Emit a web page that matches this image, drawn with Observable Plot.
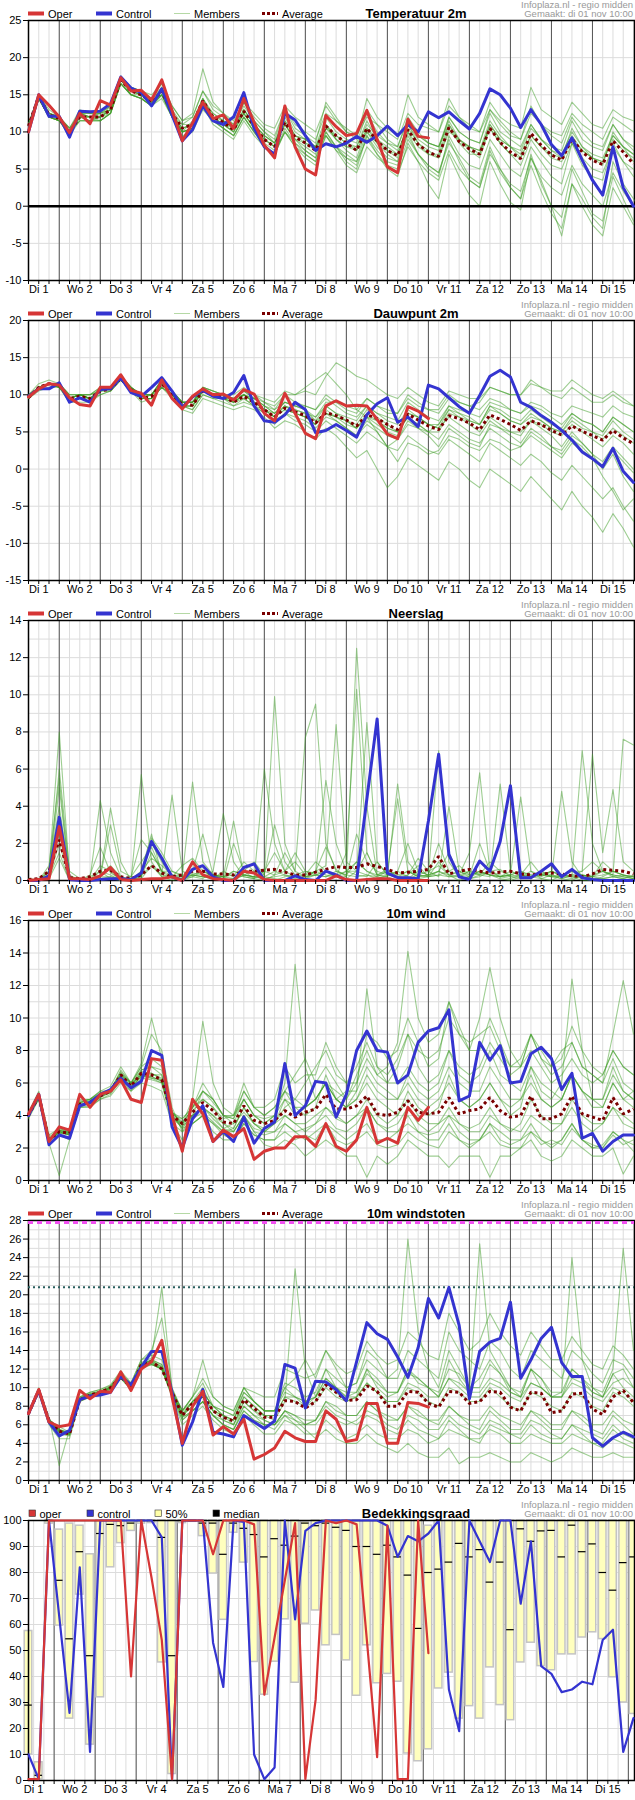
<!DOCTYPE html>
<html><head><meta charset="utf-8">
<script src="https://cdn.jsdelivr.net/npm/d3@7"></script>
<script src="https://cdn.jsdelivr.net/npm/@observablehq/plot@0.6"></script>
<style>
body{margin:0;background:#fff;}
#chart{width:635px;}
#chart svg{display:block;}
</style></head><body><div id="chart"></div>
<script>
// ---------- labels ----------
const dayLabels = ["Di 1","Wo 2","Do 3","Vr 4","Za 5","Zo 6","Ma 7","Di 8","Wo 9","Do 10","Vr 11","Za 12","Zo 13","Ma 14","Di 15"];
const infoLine1 = "Infoplaza.nl - regio midden";
const infoLine2 = "Gemaakt: di 01 nov 10:00";
const lineLegend = ["Oper","Control","Members","Average"];
const cloudLegend = ["oper","control","50%","median"];

// ---------- Temperatuur 2m ----------
const tempOper = [10,15,13.6,12, 9.9,12.5,11.1,14.2, 13.6,17.3,15.5,15.6, 14.3,17,12.9,8.8, 11.2,14,11.8,12.3, 10.5,14.5,11.3,8.2, 6.5,13.5,8,5, 4.2,12.2,10.7,9.5, 9.8,12.9,9,5.3, 4.5,11.7,9.4,9.2];
const tempControl = [10,15,12.1,12.1, 9.3,12.8,12.7,12.8, 13.8,17.4,15.9,15.3, 13.5,15.8,12.3,8.8, 10.3,13.5,11.5,11, 12,15.3,10.5,8, 7,12.5,11.6,9.5, 7.5,8.4,8,8.5, 9.4,8.6,9.5,10.8, 9.5,11,10,12.7, 11.9,12.7,11.5,10.4, 12.5,15.8,15,13.2, 10.6,13,11,8.3, 6.8,9.2,6.2,3.5, 1.5,8,2.5,0];
const tempAvg = [10.8,14.8,12.3,11.8, 10,12,12,12, 13,17,15.5,15, 14,15.5,12.5,10.5, 11,14.2,12,11.3, 10.3,12.8,10.8,9, 8,11.3,9.3,8.5, 7.5,10.8,9.5,8.5, 7.5,10.5,8.8,7.5, 6.8,10.3,8.3,7.3, 6.7,10.6,8.7,7.7, 7,10.5,8.6,7.3, 6.4,9.8,8.2,6.9, 6.2,9.1,7.3,6.2, 5.6,8.8,7.3,5.7];
const tempMembers = [
[11,15,13,12, 10.5,13,12.5,12.5, 13,17.5,16,15.5, 14.5,16,13,11, 12,15.5,13,12, 11,14,12,10.5, 9.5,13,11,10, 9,12.5,11.5,10.5, 9.5,12,11,10, 9,12.5,11,10.5, 10,13.5,12,11, 10,13,11.5,10, 9,12.5,11,10, 9.5,12.5,11,10, 9,12,11,10],
[11,14.5,12,11.5, 9.5,12,11.5,11.5, 12.5,16.5,15,14.5, 13.5,15,12,10, 10.5,13.5,11.5,10.5, 9.5,12,10,8, 7,10,8,7, 6,9.5,8,7, 6,9,7,5.5, 4.5,8,6,4.5, 3.5,7.5,5,3.5, 2.5,7,5,3, 2,6.5,4,2.5, 1.5,5.5,3,1.5, 0,4.5,2,0],
[10.5,15,12.5,12, 10,12.5,12,12, 13,17,15.5,15, 14,15.5,12.5,10, 11.5,14.5,12,11.5, 10.5,13,11,9.5, 8.5,12,9.5,8.5, 7.5,11,9.5,8.5, 8,11.5,9,7.5, 7,11,8.5,7, 6.5,10.5,8.5,8, 7.5,11.5,9.5,8, 7.5,11,9,7.5, 7,10,8,7, 6.5,9.5,8,7],
[10,14.5,12,11.5, 10,11.5,11.5,12, 13.5,17.5,15.5,15, 14,15,12,10.5, 11,14,12.5,11.5, 10.5,14,11.5,10, 9,13,10.5,9.5, 8.5,14,12,10, 9,14.5,12,10.5, 9.5,15,12,11, 10,14.5,12,10.5, 10,14,12,11, 10.5,16,13,12, 11,14,12.5,11, 10.5,13,12,11.5],
[11,15,12,11.5, 10,12,12,11.5, 12.5,17,15.5,15, 14,16,12.5,10, 10.5,14,11.5,10.5, 9.5,12,10,8, 7,10.5,8.5,7, 6,10,8,6, 5,9.5,7,5, 4,8.5,6,3, 1,7,4,1.5, 0,6,3,0.5, -0.5,6.5,3.5,0, -1.5,5,2,-1, -2,4,1,-2],
[10.5,14.5,12,12, 10,12.5,12.5,12, 13,17,15,15, 14,15,12.5,11, 11,14.5,12,11, 10,12.5,10.5,9, 8,11.5,9.5,9, 8,11,9,8, 7.5,10.5,9,8, 7,10,8,7, 7,11,9,8, 7.5,10.5,8.5,7, 6.5,9.5,8,7, 6.5,9.5,7.5,6.5, 6,9,7.5,6.5],
[11,15,12.5,12, 10,12,12,12.5, 13.5,17.5,16,15.5, 14.5,16.5,13.5,11.5, 12.5,18.5,14,12.5, 11,13.5,11.5,10, 8.5,11,9,8.5, 8,12,10,9, 8.5,12.5,10,8.5, 7.5,10.5,8.5,7.5, 6.5,10,9,8, 7,11,9,8, 7,10.5,9,8, 7.5,11.5,9,8, 7.5,11,9,7.5],
[10.5,14.5,12,11.5, 9.5,11.5,11.5,11.5, 12.5,16.5,15,14.5, 13.5,14.5,12,10, 10.5,13.5,11.5,10.5, 9.5,12,10,8.5, 7.5,10,8.5,7.5, 6.5,10,8,6.5, 5.5,9.5,7.5,6, 5.5,10,7,5.5, 4.5,9,6,3.5, 2.5,7.5,4.5,2.5, 1,5.5,2,-1, -3,3,0,-2.5, -4,2.5,0,-2.5],
[10,14.5,12.5,12, 10.5,12.5,12,12, 12.5,16.5,15,14.5, 13.5,15,12,9.5, 10,13,11.5,11, 10.5,12.5,10.5,9, 8,11,9,7.5, 6.5,10.5,9.5,8.5, 7.5,10,8.5,7.5, 6.5,11.5,9.5,8.5, 8,12,10,9, 8.5,12.5,10,9, 8,11,9,7.5, 6.5,10.5,8,6.5, 5.5,10,8,6],
[11,15,12,11.5, 10,12,11.5,12, 13,17,15.5,15, 14.5,15.5,12.5,10.5, 11,14,12,11, 10,13,11,9.5, 8.5,12.5,10,9, 8,9.5,7.5,5.5, 4.5,8,6.5,5.5, 5,9,7,5, 4,9.5,7,5.5, 5,9,7,5, 4,8,6,4, 3,8.5,5.5,4, 3.5,8.5,6,4],
[10.5,14.5,12,11.5, 10,11.5,11.5,11.5, 12.5,16.5,15,14.5, 13.5,15.5,12.5,10, 10.5,13.5,11,10, 9,11.5,9.5,8, 7,10,8,6.5, 5.5,9.5,7.5,6.5, 6,10,8,6.5, 6,11,9,8, 7.5,12,10,9, 8.5,13,11,9.5, 9,13.5,11,9.5, 8.5,12,10,8.5, 8,11,9,8],
[11,15,12.5,12, 10.5,12.5,12.5,12.5, 13.5,17.5,16,15.5, 15,16.5,13.5,11.5, 12,15.5,13.5,12.5, 11.5,14,12.5,11, 10.5,13.5,12,11, 10,13.5,11.5,10, 9.5,13,11,9, 8,11.5,9.5,8.5, 8,11.5,9,7.5, 6.5,10.5,8.5,7, 5.5,9,7,5.5, 5,8.5,6.5,5, 4.5,8,6,5],
[10.5,14.5,12,12, 10,12,12,12, 13,16.5,15,14.5, 13.5,15,12,10, 10.5,14,12,11, 10,12.5,10.5,9, 8,11,9,8, 7,11,9,7.5, 6.5,10.5,8.5,7, 6,9.5,7,5.5, 4.5,8.5,6.5,4, 3,8,5,2.5, 1,7,3,0, -4,3,1,-1.5, -3,6,3,1, -1,5.5,3,-3],
[10.5,15,12.5,12, 10,12.5,12,12.5, 13,17,15.5,15, 14,15.5,12.5,10.5, 11,14.5,12.5,11.5, 10.5,13,11,9.5, 8.5,11.5,9.5,9, 8,10.5,9,8, 8,11,9.5,8.5, 8,12,10,8.5, 8,11,8.5,7, 7,11,9,8, 6.5,9.5,8,6.5, 6,9,7.5,6.5, 6,9.5,8,7]
];

// ---------- Dauwpunt 2m ----------
const dewOper = [9.7,10.8,11.5,11.3, 9.6,8.7,8.5,11, 11,12.7,10.6,10.2, 8.6,12,9.5,8.1, 9.8,10.8,10,10.1, 9.3,10.7,10.1,7.5, 6.5,10.2,7.5,4.8, 4.1,8.5,9.2,8.5, 8.6,8.5,6.7,4.7, 4.1,8.4,7.8,6.8];
const dewControl = [9.8,10.8,10.8,11.6, 9,9.6,9,10.7, 10.8,12.3,10.3,9.8, 11,12.3,10.5,8.3, 9.7,10.6,9.8,9.5, 10.3,12.6,8.5,6.5, 6.3,7.3,9,8, 4.9,5.2,6,5.2, 4.3,7.3,8.8,9.6, 6.3,7,5.7,11.3, 10.8,9.6,8.4,7.5, 9.9,12.5,13.3,12.4, 9,8.3,7.2,6.3, 5.2,3.9,2.3,1.4, 0.3,2.8,-0.3,-1.8];
const dewAvg = [9.6,11,11.5,11.3, 9.5,9.8,9.5,10.5, 10.8,12.2,10.7,9.5, 9.8,11.5,10,8.7, 8.6,10.5,10,9.8, 9,9.8,9,8, 7,8.2,7.7,7.2, 6.2,7.6,7.2,6.6, 5.8,7.3,6.8,6, 5.3,7.4,6.6,5.8, 5.3,7.2,6.8,6.2, 5.3,7.3,6.7,6, 5.2,6.5,6,5.2, 4.6,5.8,5.1,4.5, 3.9,5.2,4.2,3.4];
const dewMembers = [
[9.5,11,11.5,11, 9,9.5,9.5,10.5, 11,12.5,11,10, 10,12,10.5,9, 9,11,10.5,10, 9.5,10.5,9.5,8.5, 7.5,9,8.5,8, 7,9,9,8.5, 8,9.5,8.5,8, 7.5,9.5,8.5,8, 7.5,9.5,9,8.5, 8,9.5,9,8, 7.5,9,8.5,7.5, 7,8.5,8,7.5, 7,8.5,7.5,7],
[10,11,11.5,11.5, 10,10,9.5,10.5, 11,12,10.5,9.5, 9.5,11.5,10,8.5, 8,10,9.5,9.5, 8.5,9,8.5,7.5, 6,7.5,6.5,6, 5,6.5,5.5,4.5, 3.5,5,4,3, 2.5,4.5,3.5,2.5, 2,4,3,2, 1,3.5,2.5,1.5, 0.5,2,1,-0.5, -1.5,0.5,-1,-2.5, -4,-2.5,-5,-7],
[9.5,11,11.5,11, 9.5,10,9.5,10.5, 10.5,12.5,11,9.5, 10,11.5,10,9, 9,10.5,10,10, 9,10,9.5,8.5, 8,9,8.5,8, 6.5,8.5,7.5,7, 6.5,8.5,7.5,6.5, 6,8,7,6, 6,8,7,6.5, 6,8.5,8,7, 6.5,8,7,6, 5.5,7.5,6.5,6, 5,7,6,5],
[9.5,11,11.5,11.5, 9.5,10,9.5,11, 11,12.5,11,10, 10,12,10.5,9, 9,11,10.5,10, 10,11,10,9, 8,10,10,10.5, 10,12.5,14.3,13.5, 12.5,12,11,10, 9.5,11,10,9, 8.5,10.5,10,9.5, 9.5,11,10.5,10, 10,11.5,11,10, 9.5,11,10,9, 9,10,9,8.5],
[9.5,10.5,11,11, 9,9,9,10, 10.5,12,10.5,9, 9.5,11,9.5,8, 7.5,9.5,9,8.5, 8,8.5,8,7, 5.5,6.5,6,5, 4,5.5,4.5,3, 1.5,2.5,0,-2.5, -1,1.5,0.5,-0.5, -1.5,1,0,-1.5, -2.5,0,-1,-2, -3,-1,-2.5,-4, -5.5,-3,-5,-6.5, -8.5,-6,-8,-10.5],
[10,11.5,12,11.5, 10,10,10,11, 11,12.5,11,10, 10,12,10.5,9, 9,11,10.5,10, 9.5,10,9,8, 7,8,7.5,7, 6,8,7,6, 5.5,7.5,6.5,5.5, 5,7,6,5, 5,7.5,7,6, 5,7,6,5, 4.5,6.5,6,5, 4.5,6,5,4, 3,4.5,3.5,2],
[9.5,11,11.5,11, 9.5,10,9.5,10, 10.5,12,10.5,9.5, 9.5,11,10,8.5, 8.5,10.5,10,9.5, 9,10,9,8, 7,8.5,8,7.5, 7,8.5,7.5,6.5, 5.5,7,6,5, 4.5,7.5,7,6, 5.5,7,6,5, 4.5,6.5,5.5,4.5, 3.5,5.5,4.5,3, 2.5,4.5,3.5,2, 1,3,1.5,0],
[9.5,11,11.5,11.5, 9.5,10,10,10.5, 11,12,11,10, 10,11.5,10,8.5, 8.5,10.5,10,10, 9,10,9.5,9, 8.5,10,9,8.5, 8,9.5,8.5,7.5, 7,8.5,7.5,7, 6.5,9,8,7, 6.5,8.5,7.5,6.5, 6,8.5,7.5,6.5, 6,7.5,6.5,5.5, 5,7,6,5, 4.5,6.5,5,4],
[9.5,11,11.5,11, 9.5,10,9.5,10.5, 11,12,10.5,9.5, 9.5,11,10,9, 9,10.5,10,10, 9.5,10,9,8, 7.5,8.5,7.5,7, 6,7.5,6.5,5.5, 4.5,6.5,5.5,4.5, 4,6.5,5.5,4.5, 3,5.5,4.5,3.5, 3,6,5.5,5, 5,6.5,5.5,4.5, 3,5,3.5,2, 0,2,-1,-3],
[9.5,11,11.5,11.5, 10,10,10,11, 11,12.5,11,10, 10,12,10.5,9, 9,11,10,9.5, 9.5,10.5,9.5,8.5, 7.5,9,8.5,8.5, 8,10,9,8, 7.5,9.5,8.5,7.5, 7.5,10,9,8, 8,10,9,8.5, 9,11,10.5,10, 10,12,11,10.5, 10.5,12,11,10, 9.5,10.5,9.5,8.5],
[9.5,11,11.5,11, 9.5,10,9.5,10.5, 10.5,12,10.5,9.5, 9.5,11.5,10,8.5, 8,10,9.5,9, 8.5,9.5,8.5,8, 7,8,7.5,7, 6,7.5,7,6.5, 6,8,7,6, 5,7.5,7,6, 5.5,8,7.5,7, 6,8,7.5,6.5, 6,7,6.5,5.5, 5,6.5,5.5,5, 4,5.5,4.5,3.5],
[10,11,11.5,11.5, 9.5,10,9.5,10.5, 11,12.5,11,10, 10,11.5,10,8.5, 8.5,10.5,10,9.5, 9,10,9,8, 7,8.5,8,7.5, 6.5,7.5,7,6.5, 5.5,7,6.5,5.5, 5,7,6,5, 4,6,5,4, 3.5,5.5,4.5,3.5, 3,5,4,3, 2,4,3,1.5, -1,-3,-5.5,-4],
[9.5,11,11.5,11, 9.5,10,9.5,10.5, 11,12,10.5,9.5, 10,11.5,10,9, 9,10.5,10,10, 9.5,10.5,10,9.5, 9,10.5,10,11, 12,13,11.5,10, 8,7,5,3, 4,6,5.5,5, 6,8.5,8,7.5, 7,9,8.5,8, 7.5,8.5,8,7, 6,7.5,6.5,6, 5,7,6,5],
[9.5,11,11.5,11.5, 9.5,10,10,10.5, 11,12,10.5,9.5, 9.5,11,10,8.5, 8.5,10.5,10,9.5, 9,9.5,8.5,7.5, 6.5,7.5,7,6.5, 5.5,7,6.5,5.5, 4.5,6,5,3, 1,3.5,3,2, 2.5,4.5,4,3, 2.5,4,3.5,2.5, 3,4.5,3.5,2.5, 1.5,3.5,2.5,1.5, 0.5,2.5,1,-0.5]
];

// ---------- Neerslag ----------
const precipOper = [0,0.05,0.1,2.9, 0.1,0.1,0.05,0.25, 0.7,0.05,0,0.05, 0.1,0.1,0.2,0, 1,0.3,0.1,0.05, 0,0.5,0.4,0.05, 0,0,0,0, 0,0,0.25,0.05, 0,0.05,0.1,0.1, 0,0,0,0];
const precipControl = [0,0,0.25,3.4, 0.05,0,0,0.05, 0.1,0.1,0.05,0.4, 2.1,1.2,0.2,0, 0.6,0.8,0.2,0, 0,0.7,0.9,0, 0,0,0.25,0.05, 0,0.5,0.3,0, 0,4.4,8.7,0.4, 0.15,0.15,0.1,3.2, 6.8,1.4,0.2,0.05, 1.05,0.5,2.1,5.1, 0.15,0.15,0.5,0.9, 0.2,0.6,0.15,0.05, 0,0,0,0];
const precipAvg = [0.05,0.1,0.5,2.2, 0.15,0.1,0.2,0.5, 0.55,0.2,0.1,0.3, 0.8,0.4,0.2,0.3, 0.5,0.5,0.35,0.35, 0.3,0.5,0.5,0.55, 0.6,0.45,0.3,0.3, 0.45,0.6,0.75,0.7, 0.7,0.9,0.75,0.6, 0.4,0.45,0.5,0.6, 1.3,0.35,0.5,0.6, 0.5,0.4,0.45,0.5, 0.35,0.3,0.35,0.4, 0.35,0.25,0.2,0.35, 0.6,0.55,0.5,0.35];
const precipMembers = [
[0,0.1,0.5,8, 0.3,0,0,0.5, 0.3,0,0,0.2, 1.5,0.5,0.1,0, 0.2,0.5,0.3,0.1, 0,0.3,0.5,0.2, 0.1,0,0,0.1, 0.5,1.8,0.6,0.2, 12.5,4,0.3,0.2, 0,0.1,0.3,0.5, 0.8,0.3,0,0.2, 0.4,0.3,0.1,0, 0.2,0.5,0.1,0, 0.3,0.2,0,0, 0.2,0.5,0.3,0.1],
[0,0.1,0.3,5, 0.2,0,0.1,4.3, 1.5,0.2,0,0.5, 2.5,0.3,0.2,0.8, 1.2,0.5,0.2,0, 0.1,0.5,1,0.3, 9.9,2,0.5,0.2, 0.3,0.5,0.2,0.1, 0.5,1.5,0.3,0.6, 0.2,0.1,0.5,0.3, 7,1,0.2,0.1, 0.3,0.5,0.6,0.2, 0.1,0.2,0.5,0.3, 0.1,0.3,0.1,0.2, 0.5,0.2,0.1,0],
[0,0,0.2,2, 0.1,0.1,0,0.2, 3.9,1,0,0.1, 0.8,0.3,4.6,0.5, 0.3,0.2,0.1,0, 2,0.5,0.1,0, 0.3,1.5,0.5,7.7, 9.5,2,0.5,0.3, 1,0.5,0.2,0.1, 0,0.3,1.2,0.5, 0.2,4,0.5,0.2, 0.5,0.3,0.2,0.1, 0.3,0.1,0.5,0.2, 0.1,0,0.3,0.1, 0.1,0.2,0.1,0.3],
[0.1,0,0.1,1.2, 0,0,0,0.8, 0.5,0,0,5.7, 1,0.2,0.3,0.2, 5.3,1,0.3,0.1, 0.5,0.3,0.2,0.1, 0,0.2,0.3,0.5, 0.4,5.4,2,0.5, 0.3,0.2,1,0.3, 0.2,0.3,0.8,0.2, 0.5,0.2,0.3,1.5, 5.8,0.5,0.2,0.3, 0.2,0.3,0.4,0.2, 4.8,1,0.2,0.3, 0.5,0.3,0.2,0.1],
[0,0,0.5,4, 0.2,0,0.3,1.8, 0.4,0.1,0.2,2.2, 1.5,0.5,0.3,0.1, 0.2,0.1,0.5,3.6, 1,0.2,0.1,6, 2,0.5,1,0.3, 0.5,0.8,8.4,1, 0.5,8.5,1,0.3, 0.2,0.5,0.3,0.2, 0.3,0.2,0.2,0.5, 0.3,0.2,5.2,0.5, 0.3,0.2,0.1,0.3, 0.2,0.3,0.5,1, 0.5,0.3,0.2,0.1],
[0,0.1,0.2,3, 0.1,0.1,0.1,0.3, 0.8,0.2,0,0.5, 1.2,0.8,0.3,0.2, 0.5,2.5,0.3,0.2, 3.2,0.3,0.2,0.1, 0.2,0.3,0.2,0.1, 0.3,0.5,0.2,1.5, 10.3,1.5,0.3,0.2, 5.2,1,0.3,0.2, 0.3,0.5,0.8,0.3, 0.5,0.3,0.2,0.3, 0.5,0.3,0.2,0.5, 0.3,0.5,0.5,6.8, 1.5,4.9,1,0.5],
[0,0,0.3,6, 0.5,0.1,0,0.1, 0.2,0,0,0.3, 2,1,0.2,0.1, 0.3,0.2,0.1,0.5, 0.2,1,0.5,0.3, 3,1,0.3,0.2, 0.5,0.3,0.2,0.5, 1,0.5,0.3,0.5, 4.4,0.5,0.2,0.3, 2,0.5,0.3,0.5, 0.3,1,0.5,0.3, 4.5,0.5,0.3,0.5, 0.3,0.2,7,2, 0.5,0.3,7.6,7.3],
[0.1,0,0.2,1.5, 0,0,0.2,0.5, 0.1,0,0.1,0.3, 0.8,0.2,0,0.1, 0.3,0.2,0.3,0.2, 0.1,0.3,0.2,0.2, 0.5,0.3,0.1,0.2, 0.3,0.2,0.5,0.3, 0.2,0.3,0.1,0.3, 0.5,0.2,0.1,0.2, 1,0.3,0.2,0.1, 0.2,0.5,0.3,0.2, 0.3,0.2,0.3,0.2, 0.2,0.1,0.3,0.2, 0.1,0.2,0.3,0.2],
[0,0,0.8,5.5, 0.1,0,0,0.2, 3,0.5,0.2,1, 1.8,0.5,0.5,0.3, 0.4,0.3,0.3,0.2, 0.3,0.2,0.1,0.5, 1.5,0.5,0.2,0.3, 1,0.5,0.3,0.2, 2.5,1,0.5,0.3, 0.5,2,0.5,0.3, 0.5,1.5,0.3,0.2, 2,0.5,0.2,0.5, 0.3,1,0.3,0.5, 0.2,0.5,0.3,0.2, 1,0.5,0.3,0.2],
[0,0.1,0.4,2.5, 0.2,0.1,0.1,0.2, 0.2,0.1,0,0.2, 2.3,1.5,0.5,0.2, 0.3,0.5,0.3,0.2, 0.5,0.3,0.2,0.5, 0.3,0.5,1.5,0.5, 0.3,0.2,0.3,0.5, 0.5,0.3,0.2,0.5, 0.3,0.5,0.2,0.3, 0.5,0.3,0.5,0.3, 0.5,0.3,0.2,0.3, 0.5,0.2,0.3,0.2, 0.3,0.2,0.3,0.2, 0.3,0.5,0.3,0.2]
];

// ---------- 10m wind ----------
const windOper = [4.1,5.3,2.4,3.3, 3.1,5.3,4.5,5.3, 5.5,6.2,5,4.8, 7.5,7.4,4,1.8, 5,4.1,2.4,3.1, 2.7,3.2,1.3,1.8, 2,2,2.7,2.7, 2.1,3.5,2.1,1.8, 2.5,4.5,2.3,2.6, 2.3,4.5,3.7,4.5];
const windControl = [4,5.3,2.2,2.8, 2.6,4.6,4.8,5.3, 5.6,6.3,5.7,6.1, 8,7.7,3.3,2, 3.8,4.6,2.4,3, 2.4,3.9,2.3,3.2, 3.6,7.2,4,4.6, 6.1,6,3.9,5.3, 8,9.2,8,7.9, 6,6.5,8.5,9.2, 9.4,10.5,4.9,5.2, 8.5,7.4,8.3,6, 6.1,7.8,8.2,7.5, 5.6,6.6,2.6,2.9, 1.8,2.4,2.8,2.8];
const windAvg = [4,5.2,2.5,3, 2.9,4.7,4.8,5.2, 5.5,6.5,5.8,6.6, 6.5,6.2,4,3.5, 4.2,4.8,4.3,3.6, 3.5,4.6,3.7,3.5, 3.7,4.3,3.9,4.2, 4.4,5.3,4.4,4.4, 4.6,5.2,4.1,4, 4.2,4.9,4.2,4.1, 4.2,5.1,4.1,4.3, 4.4,5.1,4.3,3.9, 4,5.2,3.8,3.8, 4.1,5.2,4.1,3.9, 3.7,5.1,4.1,4.4];
const windMembers = [
[4,5.2,2.5,3, 2.8,4.5,4.8,5.2, 5.5,6.5,5.8,6.8, 7,6.5,4.2,3.5, 4.5,5,4.5,3.5, 3.2,4.5,3.5,3, 3.5,4.5,5,6, 7,8,6.5,6, 7,8.5,7,6.5, 7.5,9,8,7.5, 8,10,9,8.5, 9,9.5,8,7, 7.5,9,7.5,7, 8,8.5,7,6.5, 6,7.5,6,5.5],
[4,5,2.2,2.8, 2.5,4.5,4.5,5, 5.3,6.2,5.5,6.3, 6.2,6,3.5,2.5, 3.5,4,3,2.5, 2.5,3.5,2.8,2.5, 2.5,3,2.5,2.8, 2.5,3.5,2.5,2.2, 2.5,3,2.2,2, 2.2,3,2.5,2.2, 2,3,2.5,2.2, 2.5,3,2.2,2, 2,3,2.2,2.5, 2.2,3.2,2.5,2.2, 2,2.8,2.2,2.5],
[4.2,5.5,2.8,3.2, 3,5,5,5.5, 5.8,7,6,7, 9,8,4.5,3, 4,5.5,5,4, 3.5,5,4,3.5, 4,5.5,4.5,4, 4.5,6.5,5,4.5, 5,6,5,4.5, 4,5.5,4.5,4, 4.5,6.5,5,4.5, 5,6,5,4, 4.5,7,5.5,5, 6,12.4,8,5, 4.5,6,5,5.5],
[3.8,5,2.3,0.3, 2.5,4.8,5,5.3, 5.5,6.8,6,7, 7.5,7,4,3.2, 4,4.5,4,3.5, 3,4,3.2,3, 3.5,5,4.5,4.5, 5,6,5.5,5, 6,7.5,6.5,6, 7,9,7,6, 6.5,8,7,6.5, 7,8.5,7.5,6.5, 7,8,7,6, 6.5,7.5,6.5,6, 6.5,8,7,6.5],
[4,5.3,2.5,3.2, 3,4.8,5,5.5, 5.5,6.5,6,6.5, 6.5,6.5,4,3.5, 5,9.8,6,4.5, 4,5,4,3.5, 4,6,13.3,7, 5,6,5,4.5, 5.5,11.8,7,6, 6,7,6,5.5, 6,8,6.5,6, 6.5,8,6.5,6, 5.5,7,6,5.5, 5,6.5,5.5,5, 5,6.5,5.5,5],
[4,5.2,2.6,3, 2.8,4.5,4.6,5, 5.2,6,5.5,6, 5.8,5.5,3.5,3, 3.5,4,3.5,2.8, 2.5,3.5,2.8,2.5, 2.5,3.5,3,2.5, 3,3.5,3,2.5, 3,3.5,2.5,2.5, 3,3.5,3,2.8, 3,4,3,2.5, 2.5,3.5,3,2.5, 2.5,3,2.5,2, 2.5,3.5,2.5,2, 2,3,2.5,1.8],
[4.1,5.4,2.4,2.9, 2.8,4.8,4.9,5.3, 5.6,6.6,6,7.2, 10,7.5,4.2,3.8, 4.5,5.5,5,4, 4,6,4.5,4, 4.5,5.5,6.5,7.5, 6,7,6,5, 6.5,8,6.5,7, 8.5,14.1,10,8.5, 9,11,9,8, 10,13.1,10,8, 7,9,7.5,6.5, 7,8.5,7,6.5, 6,9,12.3,9],
[3.9,5.1,2.5,3, 2.9,4.6,4.8,5.1, 5.4,6.3,5.7,6.4, 6.3,6,3.8,3.5, 4,4.5,3.8,3.2, 3.5,4.2,3.5,3.2, 3.5,4,3.5,3.5, 4,4.5,3.8,3.5, 4,4.5,3.5,3.2, 3.5,4.5,3.5,3, 3.5,4,3.5,3.2, 3.5,4.5,3.5,3.2, 3,4,3.5,3, 3.5,4.5,3.5,3, 3.5,4.5,3.5,3.2],
[4,5,2.4,3, 3,4.7,4.7,5.2, 5.5,6.5,5.8,6.6, 6.6,6.2,4,3.2, 3.5,4,3.5,3, 3,4,3,2.2, 2,2.5,2.2,1.5, 2,2.5,2,1.5, 1.5,0.2,1.5,1, 1.5,2.5,2,1.5, 1.5,0.8,1.5,1.5, 1.5,0.2,1.5,1.5, 2,2.5,1.5,1.2, 1.5,2.5,2,1.5, 1.5,2,0.4,1.5],
[4,5.2,2.7,3.1, 3,4.9,5,5.4, 5.6,6.7,6,6.8, 7,6.8,4.2,3.6, 4.3,5,4.5,3.8, 4,5.5,4.5,4, 4.5,5.5,5,4.5, 5,6,5,4.5, 5,6.5,5.5,5, 5,6,5,4.5, 5,6,5,4.5, 5,6,5,4.5, 5,6,5,4.5, 5,6.5,5.5,4.5, 4.5,6,5,4.5],
[4,5.1,2.6,3.1, 2.9,4.6,4.8,5.2, 5.4,6.6,5.9,6.5, 6.4,6.1,4,3.8, 4.5,5.5,4.8,4, 3.8,5,4,3.8, 4,5,4,4.5, 5,6,5,5.5, 5.5,7,6,5.5, 5,6.5,5.5,5, 5.5,7,6,5.5, 5.5,7,6,5, 5,6.5,5,4.5, 5,6.5,5.5,5, 5,7,5.5,5],
[4,5.3,2.4,3, 2.8,4.8,4.9,5.3, 5.5,6.4,5.7,6.7, 6.6,6.3,3.8,3.3, 4,4.5,4,3.2, 3,4,3,2.8, 3,3.5,3,3.2, 3.5,4,3.2,3, 3.5,4.5,3.5,3, 3,4,3,2.5, 2.5,3.5,2.5,2, 2.5,3.5,2.5,2.2, 2.5,3.5,2.5,2.2, 2.5,3.5,2.5,2, 2.2,3,2.5,2.2],
[4.1,5.2,2.5,3.1, 2.9,4.7,4.7,5.1, 5.5,6.4,5.6,6.5, 6.3,6.2,4.2,3.4, 4.5,6,5,4, 3.8,5.5,4.5,4.5, 5,7,6,6.5, 6.5,8.5,7,6, 6,9,8.5,7.5, 8,10,8.5,7, 7.5,11,9.5,8, 8,10,8.5,7, 7,9,8,7, 7.5,9.5,8,7, 6.5,8,7,6.5],
[3.9,5.2,2.6,2.9, 2.9,4.6,4.8,5.2, 5.4,6.4,5.7,6.4, 6.4,6.1,3.9,3.4, 3.8,4.2,3.6,3, 3.2,4.5,3.5,3, 3,4,3.5,3, 3.5,4.5,4,3.5, 4,5,4,3.5, 4,5,4,3.5, 3.5,4.5,3.5,3, 3,4,3.5,3, 3.5,5,4,3.5, 3.5,5,4,3.5, 3.5,4.5,4,3.5]
];

// ---------- 10m windstoten ----------
const gustOper = [7.2,9.8,6.3,5.8, 6,9.7,8.8,9.6, 9.5,11.7,9.7,12, 12.8,15.1,9,4, 8,9.6,4.9,5.8, 5,6.6,2.3,2.8, 3.5,5.3,4.6,4.2, 4.2,7.5,6.6,4.2, 4.4,8.3,8.3,4, 4,8.4,8.3,7.9];
const gustControl = [7.2,9.7,6.3,4.8, 5.4,8.7,9.1,9.2, 9.5,11.2,10.3,12.2, 13.9,13.9,9.5,3.8, 6.3,9.8,5.2,5, 4.7,7,6.3,5.6, 6.4,12.5,12.1,7.8, 10.7,10.6,9.8,8.6, 12.8,17,15.8,15.2, 13.3,11.1,14.3,19.6, 17.5,20.8,16.7,8.8, 13.9,14.9,15.3,19.2, 11,13,15.3,16.5, 12.7,11.2,11.2,4.6, 3.7,4.6,5.2,4.7];
const gustAvg = [7.2,9.7,6.5,5.3, 5,8.7,9.2,9.5, 10,11.2,10,12.5, 12.8,12,9.5,7, 8.3,9.2,7.5,6.8, 6.4,8.7,7.8,6.8, 6.8,8.6,8.5,7.8, 8.5,10.3,9.5,8.6, 8.7,10.2,9.6,8, 8,9.6,9.5,8.3, 7.9,9.6,9.5,8.3, 8.5,9.6,9.5,7.9, 7.5,9.5,9.4,7.3, 7.5,9.3,9.4,7.7, 7.1,9,9.7,8.4];
const gustRefLines = [28, 20.8];
const gustMembers = [
[7.2,9.8,6.3,5.5, 5.2,9,9.5,9.8, 10.2,11.5,10.5,13, 13.5,13,9.5,7, 8.5,10,7.5,7, 6.5,9,8,7, 7,9,9,8, 9,11,10,9, 9.5,12,11,9.5, 9.5,12,11,10, 9.5,12,11.5,10, 10,12.5,11.5,10, 9.5,12,11,9.5, 9.5,12,11,10, 9,11.5,12,10],
[7,9.5,6,4.5, 4.5,8.5,9,9.2, 9.5,11,9.8,12, 12.5,12,9,6, 7,8,6.5,5.5, 5,7,6,5, 5,6.5,6,5, 5,6.5,5.5,4.5, 5,6,5,4.5, 4.5,5.5,5,4, 4.5,5.5,5,4.5, 4.5,5.5,5,4, 4,5,4.5,4, 4,5,4.5,4, 3.5,4.5,4,3.5],
[7.3,10,6.8,1.6, 5.5,9,9.5,9.8, 10.3,11.8,10.5,13, 14,17.5,10,7.5, 9,10.5,8,7.5, 7,10,8.5,7.5, 7.5,10.5,10,9, 9.5,12,11,10, 10.5,13,12,11, 11,14,13,12, 11,16,14,13, 12,15,14,12, 11,14,13,12, 11,14,13,11.5, 10.5,13,12.5,11],
[7.2,9.6,6.4,5.3, 5,8.8,9.3,9.6, 10,11.3,10.2,12.5, 13,12.5,9.5,7.5, 9,13,9,8, 7.5,10,8.5,7.5, 7.5,10,11,13, 11,14,12,10, 10.5,14,13,11, 12,26,16,12, 10,14,12,10, 11,13,11.5,9.5, 9,12,10,9, 9,12,11,9.5, 9,11.5,10,9],
[7.1,9.5,6.5,5.8, 5.2,8.6,9.2,9.4, 9.8,11,10,12.2, 12.5,12,9,6.5, 7.5,8.5,7,6, 5.5,7.5,6.5,6, 5.5,7,6,6, 6.5,8,7,6.5, 6,7,6.5,5.5, 5,6.5,5.5,5, 4.5,6.5,5.5,4.5, 4,6,5.5,5, 4.5,6,5,4.5, 4.5,6,5,4, 4,5.5,4.5,4],
[7.2,9.7,6.2,5, 4.8,8.7,9.2,9.5, 10,11.2,10,12.5, 13,12.5,9.8,7, 8,9,7.5,7, 6,8.5,7.5,7, 6.5,8.5,22.8,12, 9,12,10,9, 9,12,10,9, 9.5,12,10.5,10, 9,13,11,9.5, 25.5,14,12,10, 9,12,11,9, 9.5,24,13,10, 9.5,12,25,14],
[7.2,9.8,6.6,5.5, 5,8.9,9.4,9.6, 10.1,11.5,10.3,12.7, 13.2,20.8,9.8,7.5, 8.5,9.5,8,7.5, 7,9.5,8.5,7.5, 7.5,10,9,8.5, 9,10.5,9.5,8.5, 9,10.5,9.5,8.5, 8.5,10.5,10,9, 9,11,10,9, 9,10.5,10,9, 8.5,10.5,10,9, 9,10.5,10,9, 8.5,10,9.5,8.5],
[7.2,9.6,6.5,5.2, 4.9,8.5,9,9.3, 9.8,11,9.8,12.3, 12.5,12,9.2,6.5, 7.5,8.5,7,6, 5.5,8,7,6, 6,7.5,7,6, 6.5,8.5,8,7, 7,8.5,7.5,6.5, 6.5,8,7.5,6.5, 6,8,7,6, 5.5,7.5,6.5,5.5, 5.5,7.5,6.5,5.5, 5.5,7.5,6.5,5.5, 5,7,6,5],
[7.2,9.7,6.4,5.5, 5.1,8.8,9.2,9.6, 10,11.2,10,12.6, 12.8,12.2,9.5,7, 8,9,7.5,6.5, 6,8.5,7.5,6.5, 6,7.5,6.5,5.5, 4.5,5.5,4.5,4, 4,5,4,3.5, 3,4,3,2.5, 2.5,3.5,1.8,2.5, 2.5,3,2.5,2, 2,3,2.5,2, 2.5,3.5,3,2.5, 2.5,3,2.5,2.5],
[7.2,9.7,6.6,5.4, 5,8.8,9.2,9.5, 10,11.3,10.1,12.5, 12.9,12.3,9.5,7, 8.5,9.5,8,7, 6.5,9,8,7, 7,9,8.5,8, 8.5,10,9,8.5, 9,10.5,9.5,8.5, 8.5,10,9.5,8.5, 8,10,9.5,8.5, 8.5,10,9,8, 7.5,9.5,9,8, 7.5,9.5,9,8, 7.5,9.5,9,8],
[7.2,9.7,6.5,5.2, 5,8.6,9.2,9.5, 9.9,11.2,10,12.4, 12.7,12,9.3,7.2, 8.5,9.5,8,7, 6.5,9.5,8.5,7.5, 7.5,9.5,9,8.5, 9,11,10,9.5, 9.5,11.5,10.5,9.5, 9.5,11.5,11,10, 9,11,10.5,9.5, 9.5,11,10.5,9.5, 9,10.5,10,9, 9,11,10.5,9.5, 9,10.5,11,10],
[7.2,9.7,6.4,5.3, 5,8.7,9.2,9.5, 10,11.1,10,12.4, 12.7,12,9.3,6.8, 7.5,8.5,7,6, 5.5,7.5,6.5,6, 6,7,6.5,6, 6,7.5,6.5,6, 6.5,7.5,7,6, 5.5,7,6.5,5.5, 5.5,7,6,5.5, 5,6.5,6,5, 5,6.5,6,5, 4.5,6,5.5,5, 4.5,6,5,4.5],
[7.2,9.8,6.5,5.4, 5.1,8.8,9.3,9.6, 10.1,11.3,10.1,12.6, 12.9,12.2,9.6,7.5, 9,11,9,8, 7.5,10,9.5,9, 9,12,11.5,11, 11.5,14,12.5,11.5, 12,15,13.5,12.5, 13,16,15,13.5, 13,18,16,14, 15,18,16,14.5, 13.5,16,14.5,13, 13,15.5,14,12.5, 12,14.5,13.5,12],
[7.2,9.6,6.6,5.2, 4.9,8.7,9.1,9.4, 9.9,11.1,9.9,12.4, 12.6,12,9.4,6.8, 7.5,8.5,7,6.5, 6,8,7,6.5, 6,7.5,7,6.5, 6.5,8.5,7.5,7, 7,8.5,7.5,7, 6.5,8,7,6.5, 6.5,8,7,6.5, 6.5,8,7,6.5, 6,7.5,7,6, 6,7.5,7,6, 6,7.5,6.5,6]
];

// ---------- Bedekkingsgraad ----------
const cloudOper = [0.5,0.5,100,100, 100,100,100,100, 100,100,40,100, 78,54,0.5,100, 100,100,87,100, 100,100,98.5,33, 55,77,99,0.5, 31,100,99,100, 98.5,54,9,98, 0.5,0.5,100,49];
const cloudControl = [10,0.5,100,63, 26,82,11,100, 100,100,100,100, 100,93.5,0.5,100, 100,100,53,36, 100,99.5,10,0.5, 5,100,62,96, 99,100,100,100, 100,100,100,98, 86,94,92,95, 100,35,19,100, 92,84,100,100, 68,92,44,41, 34,35,38,37, 54,58,11,24];
const cloudLow = [10,0.5,98.8,59.6, 23.8,71.5,13.8,32, 82,91.3,96,98.8, 99,45.4,2.5,99, 99.5,94,79.6,61.8, 95.3,83.8,45.6,33, 45.7,62,37.6,60.3, 65.4,52,56,46.2, 32.6,52,37.4,41, 38,10.4,7.4,12, 35.4,41.5,23.8,28.6, 23.8,43.5,29,23.2, 45.4,53,44,42.4, 48.5,48.5,55,57, 54.4,39.7,30,25.6];
const cloudHigh = [57.5,7,100,96.5, 98.8,98,87,100, 100,100,100,100, 100,100,100,100, 100,100,100,100, 100,100,100,100, 100,100,100,99.5, 100,100,100,100, 100,100,100,100, 100,100,100,98, 100,100,100,100, 100,100,100,100, 100,100,100,100, 100,100,100,100, 100,100,100,100];
const cloudMedian = [29,2,100,77, 54.5,88,48,95, 98.5,98,99,100, 100,93.5,48,100, 100,99,99,87, 99,97,94.6,86, 93,90.5,94,99, 98,99,97.4,96.2, 90,90,87,90.5, 86,79,58.5,80, 81.3,84,91.2,86, 88.8,76.3,84,58, 96.8,92,96,96.2, 86,98.2,88,91, 80,73.2,83.8,86];

// ---------- styling ----------
const FONT = "'Liberation Sans', Arial, Helvetica, sans-serif";
const C_OPER = "#d63636", C_CTRL = "#3434d0", C_AVG = "#7a0000", C_MEM = "#3d9e25";
const W = 635, H = 300;
const xDomain = [0, 59.1];

const rowsOf = arr => arr.map((v, i) => ({i, v}));
const memberRows = ms => ms.flatMap((arr, m) => arr.map((v, i) => ({m, i, v})));

function addHeader(svg, title, kind) {
  const g = d3.select(svg).append("g").attr("font-family", FONT).attr("text-anchor", "start");
  if (kind === "lines") {
    const sw = [
      {x: 28, stroke: C_OPER, w: 4, dash: null},
      {x: 96, stroke: C_CTRL, w: 4, dash: null},
      {x: 174, stroke: "#b5d9a5", w: 1, dash: null},
      {x: 262, stroke: C_AVG, w: 3, dash: "3,2"}
    ];
    sw.forEach((s, k) => {
      g.append("line").attr("x1", s.x).attr("x2", s.x + 16).attr("y1", 13.5).attr("y2", 13.5)
        .attr("stroke", s.stroke).attr("stroke-width", s.w).attr("stroke-dasharray", s.dash);
      g.append("text").attr("x", s.x + 20).attr("y", 17.5).attr("text-anchor", "start")
        .attr("font-size", 11).attr("fill", "#000").text(lineLegend[k]);
    });
  } else {
    const sq = [{x: 29, fill: C_OPER}, {x: 87, fill: C_CTRL}, {x: 155, fill: "#ffffa8"}, {x: 213, fill: "#000"}];
    sq.forEach((s, k) => {
      g.append("rect").attr("x", s.x).attr("y", 10).attr("width", 6.5).attr("height", 6.5)
        .attr("fill", s.fill).attr("stroke", "#333").attr("stroke-width", 0.6);
      g.append("text").attr("x", s.x + 10.5).attr("y", 17.5).attr("text-anchor", "start")
        .attr("font-size", 11).attr("fill", "#000").text(cloudLegend[k]);
    });
  }
  g.append("text").attr("x", 416).attr("y", 17.5).attr("text-anchor", "middle")
    .attr("font-weight", "bold").attr("font-size", 13).attr("fill", "#000").text(title);
  g.append("text").attr("x", 633).attr("y", 7.5).attr("text-anchor", "end")
    .attr("font-size", 9.5).attr("fill", "#999").text(infoLine1);
  g.append("text").attr("x", 633).attr("y", 17).attr("text-anchor", "end")
    .attr("font-size", 9.5).attr("fill", "#999").text(infoLine2);
}

function axes(yTicks, labelOffset, tickPositions) {
  const labelTicks = dayLabels.map((_, k) => labelOffset + 4 * k);
  return [
    Plot.axisY(yTicks, {anchor: "left", tickSize: 5, tickPadding: 2, fontSize: 11, label: null, tickFormat: d => String(d)}),
    Plot.axisX(tickPositions, {anchor: "bottom", tickSize: 4, label: null, tickFormat: () => ""}),
    Plot.axisX(labelTicks, {anchor: "bottom", tickSize: 0, tickPadding: 5, fontSize: 11, label: null,
      tickFormat: d => dayLabels[Math.round((d - labelOffset) / 4)]})
  ];
}

function linePanel(cfg) {
  const marks = [
    Plot.ruleY(cfg.grid, {stroke: "#dcdcdc", strokeWidth: 1}),
    Plot.ruleX(d3.range(0, 60), {stroke: "#dcdcdc", strokeWidth: 1}),
    Plot.ruleX(d3.range(3, 59, 4), {stroke: "#555", strokeWidth: 1}),
    Plot.frame({stroke: "#000", strokeWidth: 1.5}),
    Plot.line(memberRows(cfg.members), {x: "i", y: "v", z: "m", stroke: C_MEM, strokeOpacity: 0.5, strokeWidth: 1.1}),
    Plot.line(rowsOf(cfg.avg), {x: "i", y: "v", stroke: C_AVG, strokeWidth: 3, strokeDasharray: "3,3", strokeLinecap: "butt", strokeLinejoin: "miter"})
  ];
  if (cfg.zero) marks.push(Plot.ruleY([0], {stroke: "#000", strokeWidth: 2.5}));
  if (cfg.refs) {
    marks.push(Plot.ruleY([cfg.refs[0]], {stroke: "#f050f0", strokeWidth: 3, strokeDasharray: "5,4", dy: 2}));
    marks.push(Plot.ruleY([cfg.refs[1]], {stroke: "#2a5f5f", strokeWidth: 2, strokeDasharray: "2,3"}));
  }
  marks.push(
    Plot.line(rowsOf(cfg.control), {x: "i", y: "v", stroke: C_CTRL, strokeWidth: 3}),
    Plot.line(rowsOf(cfg.oper), {x: "i", y: "v", stroke: C_OPER, strokeWidth: 3}),
    ...axes(cfg.ticks, 1, d3.range(0, 60))
  );
  const svg = Plot.plot({
    width: W, height: H, marginLeft: 28, marginRight: 1, marginTop: 20, marginBottom: 20,
    style: {fontFamily: FONT, fontSize: "11px", background: "#fff", color: "#000"},
    x: {domain: xDomain},
    y: {domain: cfg.y},
    marks
  });
  addHeader(svg, cfg.title, "lines");
  return svg;
}

function cloudPanel() {
  const rows = cloudLow.map((lo, i) => ({i, lo, hi: cloudHigh[i], med: cloudMedian[i]}));
  const svg = Plot.plot({
    width: W, height: H, marginLeft: 28, marginRight: 1, marginTop: 20, marginBottom: 20,
    style: {fontFamily: FONT, fontSize: "11px", background: "#fff", color: "#000"},
    x: {domain: xDomain},
    y: {domain: [0, 100]},
    marks: [
      Plot.ruleY(d3.range(0, 101, 10), {stroke: "#dcdcdc", strokeWidth: 1}),
      Plot.ruleX(d3.range(0.5, 59, 1), {stroke: "#dcdcdc", strokeWidth: 1}),
      Plot.ruleX(d3.range(2.5, 59, 4), {stroke: "#555", strokeWidth: 1}),
      Plot.rect(rows, {x1: d => d.i - 0.37, x2: d => d.i + 0.37, y1: "lo", y2: "hi", fill: "#ffffbe", stroke: "#c4c4c4", strokeWidth: 1.5}),
      Plot.ruleY(rows, {y: "med", x1: d => d.i - 0.37, x2: d => d.i + 0.37, stroke: "#000", strokeWidth: 1.2}),
      Plot.frame({stroke: "#000", strokeWidth: 1.5}),
      Plot.line(rowsOf(cloudControl), {x: "i", y: "v", stroke: C_CTRL, strokeWidth: 2.2}),
      Plot.line(rowsOf(cloudOper), {x: "i", y: "v", stroke: C_OPER, strokeWidth: 2.2}),
      ...axes(d3.range(0, 101, 10), 0.5, d3.range(0.5, 59, 1))
    ]
  });
  addHeader(svg, "Bedekkingsgraad", "squares");
  return svg;
}

const panels = [
  {title: "Temperatuur 2m", y: [-10, 25], ticks: d3.range(-10, 26, 5), grid: d3.range(-10, 26, 5),
   oper: tempOper, control: tempControl, avg: tempAvg, members: tempMembers, zero: true},
  {title: "Dauwpunt 2m", y: [-15, 20], ticks: d3.range(-15, 21, 5), grid: d3.range(-15, 21, 5),
   oper: dewOper, control: dewControl, avg: dewAvg, members: dewMembers},
  {title: "Neerslag", y: [0, 14], ticks: d3.range(0, 15, 2), grid: d3.range(0, 15, 1),
   oper: precipOper, control: precipControl, avg: precipAvg, members: precipMembers},
  {title: "10m wind", y: [0, 16], ticks: d3.range(0, 17, 2), grid: d3.range(0, 17, 1),
   oper: windOper, control: windControl, avg: windAvg, members: windMembers},
  {title: "10m windstoten", y: [0, 28], ticks: d3.range(0, 29, 2), grid: d3.range(0, 29, 1),
   oper: gustOper, control: gustControl, avg: gustAvg, members: gustMembers, refs: gustRefLines}
];

const root = document.getElementById("chart");
panels.forEach(p => root.appendChild(linePanel(p)));
root.appendChild(cloudPanel());
</script>
</body></html>
